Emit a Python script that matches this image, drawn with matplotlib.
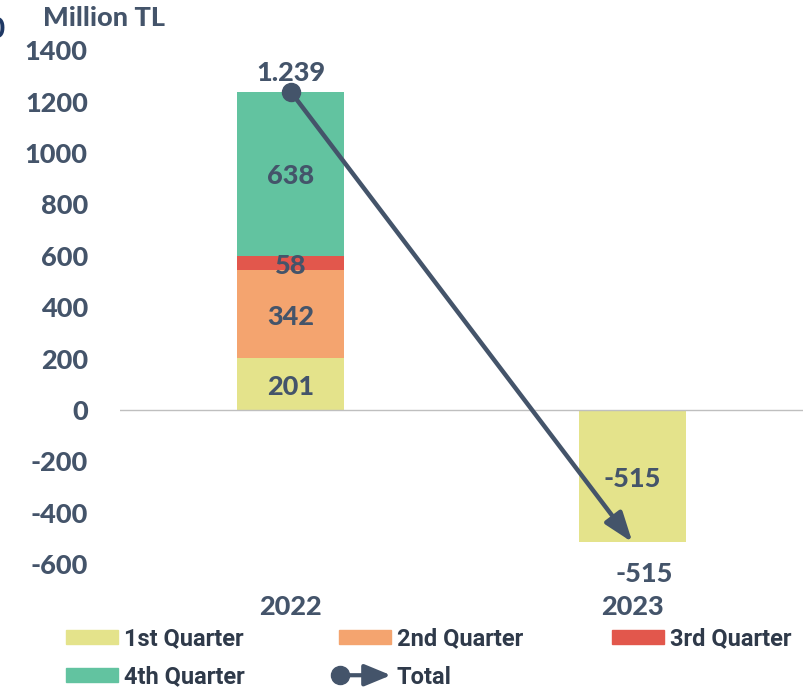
import os
import matplotlib
matplotlib.use("Agg")
import matplotlib.pyplot as plt
from matplotlib import font_manager as fm
from matplotlib.patches import Patch, FancyArrowPatch
from matplotlib.lines import Line2D
from matplotlib.legend_handler import HandlerBase

years = ["2022", "2023"]
q1 = [201, -515]
q2 = [342, 0]
q3 = [58, 0]
q4 = [638, 0]
totals = [1239, -515]
series_names = ["1st Quarter", "2nd Quarter", "3rd Quarter", "4th Quarter"]
colors = ["#E4E38B", "#F4A46F", "#E2574C", "#62C3A0"]
yticks = [-600, -400, -200, 0, 200, 400, 600, 800, 1000, 1200, 1400]

TXT = "#44546A"
BAD = ("semi", "demi", "extra", "ultra", "medium", "italic", "light", "thin", "condensed", "narrow")


def weight_file(cands, suffixes):
    for fam in cands:
        files = [f.fname for f in fm.fontManager.ttflist if f.name == fam]
        for suf in suffixes:
            for fn in files:
                stem = os.path.basename(fn).rsplit(".", 1)[0].lower()
                if stem.endswith(suf) and not any(k in stem for k in BAD):
                    return fn
    return None


main_file = weight_file(["Lato", "Roboto", "Open Sans", "Noto Sans"], ["heavy", "bold"])
leg_file = weight_file(["Roboto", "Liberation Sans", "Open Sans", "Lato"], ["bold"])


def mprop(size):
    if main_file:
        return fm.FontProperties(fname=main_file, size=size)
    return fm.FontProperties(family="DejaVu Sans", weight="bold", size=size)


def lprop(size):
    if leg_file:
        return fm.FontProperties(fname=leg_file, size=size)
    return fm.FontProperties(family="DejaVu Sans", weight="bold", size=size - 2)


FS = 19.5
fig = plt.figure(figsize=(8.09, 6.88), dpi=100)
ax = fig.add_axes([0.148, 0.180, 0.845, 0.747])

x = list(range(len(years)))
width = 0.315
series = [q1, q2, q3, q4]
bottom_pos = [0.0] * len(years)
bottom_neg = [0.0] * len(years)
for vals, c in zip(series, colors):
    bots = []
    for i, v in enumerate(vals):
        if v >= 0:
            bots.append(bottom_pos[i]); bottom_pos[i] += v
        else:
            bots.append(bottom_neg[i]); bottom_neg[i] += v
    ax.bar(x, vals, width, bottom=bots, color=c, zorder=2)
    for i, v in enumerate(vals):
        if v != 0:
            ax.text(x[i], bots[i] + v / 2 - 10, f"{v}", ha="center", va="center",
                    fontproperties=mprop(FS), color=TXT, zorder=4)

# total line with arrow
ax.annotate("", xy=(x[1], totals[1]), xytext=(x[0], totals[0]),
            arrowprops=dict(arrowstyle="-|>,head_length=0.9,head_width=0.32", lw=3.2,
                            color=TXT, shrinkA=0, shrinkB=0, mutation_scale=20),
            zorder=5)
ax.plot([x[0]], [totals[0]], "o", color=TXT, ms=13, zorder=6)


def fmt(v):
    return f"{v:,}".replace(",", ".")


ax.text(x[0], totals[0] + 24, fmt(totals[0]), ha="center", va="bottom",
        fontproperties=mprop(FS), color=TXT)
ax.text(x[1] + 0.035, totals[1] - 78, fmt(totals[1]), ha="center", va="top",
        fontproperties=mprop(FS), color=TXT)

ax.set_xlim(-0.5, 1.5)
ax.set_ylim(-600, 1400)
ax.set_yticks(yticks)
ax.set_yticklabels([str(t) for t in yticks])
ax.set_xticks(x)
ax.set_xticklabels(years)
for lab in ax.get_yticklabels() + ax.get_xticklabels():
    lab.set_fontproperties(mprop(FS)); lab.set_color(TXT)
ax.tick_params(axis="both", length=0)
ax.tick_params(axis="y", pad=23)
ax.tick_params(axis="x", pad=22)
for s in ax.spines.values():
    s.set_visible(False)
ax.axhline(0, color="#BFBFBF", lw=1, zorder=3)

fig.text(43 / 809, 1 - 18 / 688, "Million TL", ha="left", va="center",
         fontproperties=mprop(FS), color=TXT)
fig.text(-0.014, 1 - 30 / 688, "0", ha="left", va="center",
         fontproperties=mprop(20), color="#1F3864")


class ArrowHandler(HandlerBase):
    def create_artists(self, legend, orig_handle, xdescent, ydescent, width, height, fontsize, trans):
        y = height / 2 - ydescent
        x0 = -xdescent
        x1 = -xdescent + width
        arr = FancyArrowPatch((x0, y), (x1, y), arrowstyle="-|>,head_length=0.8,head_width=0.33",
                              lw=3, color=TXT, mutation_scale=20, shrinkA=0, shrinkB=0,
                              transform=trans)
        dot = Line2D([x0 + 1], [y], marker="o", ms=13, color=TXT, transform=trans)
        return [arr, dot]


class TotalHandle:
    pass


handles = [Patch(color=c) for c in colors]
th = TotalHandle()
columns = [([handles[0], handles[3]], [series_names[0], series_names[3]], 66),
           ([handles[1], th], [series_names[1], "Total"], 339),
           ([handles[2]], [series_names[2]], 612)]
for hs, ls, xpix in columns:
    leg = fig.legend(hs, ls, ncol=1, loc="upper left",
                     bbox_to_anchor=(xpix / 809, 1 - 627 / 688), frameon=False,
                     handler_map={TotalHandle: ArrowHandler()},
                     prop=lprop(17),
                     handlelength=2.2, handleheight=0.55, handletextpad=0.25,
                     labelspacing=0.66, borderaxespad=0, borderpad=0)
    for t in leg.get_texts():
        t.set_color("#2F3A4A")

fig.savefig("out.png", dpi=100)
